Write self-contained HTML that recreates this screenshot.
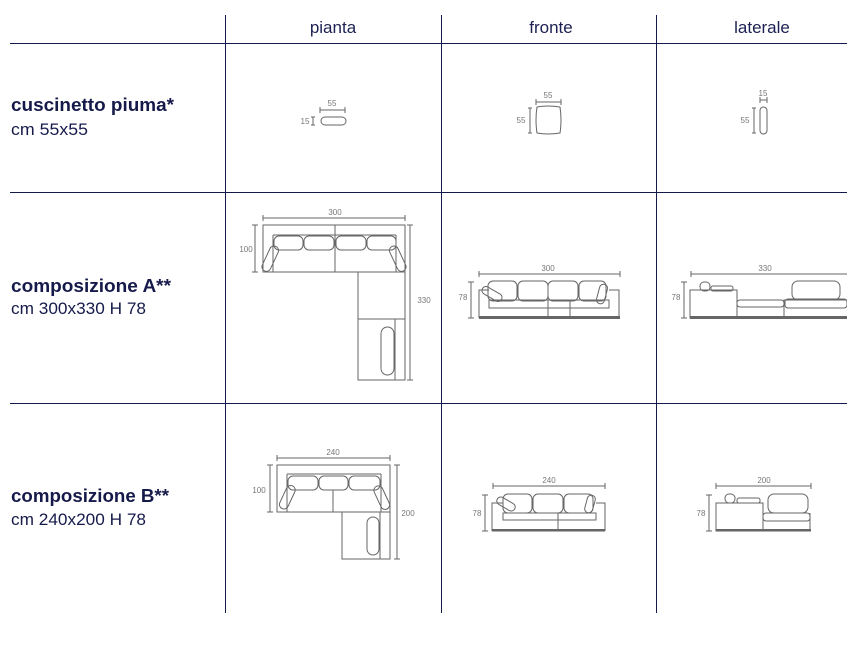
<!DOCTYPE html>
<html><head><meta charset="utf-8"><style>
html,body{margin:0;padding:0;background:#fff;width:847px;height:652px;overflow:hidden}
svg{display:block}
.h{font-family:"Liberation Sans",sans-serif;font-size:17px;fill:#1c2052;text-anchor:middle}
.b{font-family:"Liberation Sans",sans-serif;font-size:18px;font-weight:bold;fill:#161a4a}
.r{font-family:"Liberation Sans",sans-serif;font-size:17px;fill:#161a4a}
.d{font-family:"Liberation Sans",sans-serif;font-size:8px;fill:#777;text-anchor:middle}
.g{fill:none;stroke:#666;stroke-width:1}
.k{fill:#666;stroke:none}
</style></head><body>
<svg width="847" height="652" viewBox="0 0 847 652">
<g stroke="#161a4a" stroke-width="1">
<line x1="10" y1="43.5" x2="847" y2="43.5"/>
<line x1="10" y1="192.5" x2="847" y2="192.5"/>
<line x1="10" y1="403.5" x2="847" y2="403.5"/>
<line x1="225.5" y1="15" x2="225.5" y2="613"/>
<line x1="441.5" y1="15" x2="441.5" y2="613"/>
<line x1="656.5" y1="15" x2="656.5" y2="613"/>
</g>
<text class="h" x="333" y="33">pianta</text>
<text class="h" x="551" y="33">fronte</text>
<text class="h" x="762" y="33">laterale</text>
<text class="b" x="11" y="111" textLength="163" lengthAdjust="spacingAndGlyphs">cuscinetto piuma*</text>
<text class="r" x="11" y="135" textLength="77" lengthAdjust="spacingAndGlyphs">cm 55x55</text>
<text class="b" x="11" y="292" textLength="160" lengthAdjust="spacingAndGlyphs">composizione A**</text>
<text class="r" x="11" y="314" textLength="135" lengthAdjust="spacingAndGlyphs">cm 300x330 H 78</text>
<text class="b" x="11" y="502" textLength="158" lengthAdjust="spacingAndGlyphs">composizione B**</text>
<text class="r" x="11" y="525" textLength="135" lengthAdjust="spacingAndGlyphs">cm 240x200 H 78</text>

<!-- cushion -->
<g class="g">
<path d="M320 110H345M320 107V113M345 107V113"/>
<rect x="321" y="117" width="25" height="8" rx="4"/>
<path d="M313 117V125M311 117H315M311 125H315"/>
<path d="M536 102H561M536 99V105M561 99V105"/>
<path d="M537 107Q548 105 560 107Q562 120 560 133Q548 135 537 133Q535 120 537 107Z"/>
<path d="M530 108V133M528 108H532M528 133H532"/>
<path d="M760 100H767M760 97V103M767 97V103"/>
<rect x="760" y="107" width="7" height="27" rx="3.5"/>
<path d="M754 108V133M752 108H756M752 133H756"/>
</g>
<text class="d" x="332" y="106">55</text>
<text class="d" x="305" y="124">15</text>
<text class="d" x="548" y="98">55</text>
<text class="d" x="521" y="123">55</text>
<text class="d" x="763" y="96">15</text>
<text class="d" x="745" y="123">55</text>

<!-- plan A -->
<g class="g">
<path d="M263 218H405M263 215V221M405 215V221"/>
<path d="M255 225V272M252 225H258M252 272H258"/>
<path d="M410 225V380M407 225H413M407 380H413"/>
<rect x="263" y="225" width="142" height="47"/>
<line x1="335" y1="225" x2="335" y2="272"/>
<path d="M273 235H396M273 235V272M396 235V272"/>
<rect x="274" y="236" width="29" height="14" rx="5"/>
<rect x="304" y="236" width="30" height="14" rx="5"/>
<rect x="336" y="236" width="30" height="14" rx="5"/>
<rect x="367" y="236" width="29" height="14" rx="5"/>
<rect x="266" y="245" width="9" height="27" rx="4.5" transform="rotate(25 270 258)"/>
<rect x="393" y="245" width="9" height="27" rx="4.5" transform="rotate(-25 398 258)"/>
<rect x="358" y="272" width="47" height="108"/>
<line x1="358" y1="319" x2="405" y2="319"/>
<line x1="395" y1="319" x2="395" y2="380"/>
<rect x="381" y="327" width="13" height="48" rx="6.5"/>
</g>
<text class="d" x="335" y="215">300</text>
<text class="d" x="246" y="252">100</text>
<text class="d" x="424" y="303">330</text>

<!-- front A -->
<g class="g">
<path d="M479 274H620M479 271V277M620 271V277"/>
<path d="M471 282V318M468 282H474M468 318H474"/>
<path d="M479 318V290H489M619 318V290H609"/>
<path d="M489 308V300H609V308Z"/>
<rect x="488" y="281" width="29" height="20" rx="5"/>
<rect x="518" y="281" width="30" height="20" rx="5"/>
<rect x="548" y="281" width="30" height="20" rx="5"/>
<rect x="579" y="281" width="27" height="20" rx="5"/>
<rect x="481" y="290" width="22" height="8" rx="4" transform="rotate(30 492 294)"/>
<rect x="598" y="284" width="8" height="20" rx="4" transform="rotate(15 602 294)"/>
<line x1="548" y1="300" x2="548" y2="318"/>
<line x1="570" y1="300" x2="570" y2="318"/>
</g>
<rect class="k" x="479" y="316" width="141" height="3"/>
<text class="d" x="548" y="271">300</text>
<text class="d" x="463" y="300">78</text>

<!-- side A -->
<g class="g">
<path d="M691 274H847M691 271V277"/>
<path d="M684 282V318M681 282H687M681 318H687"/>
<rect x="690" y="290" width="47" height="28"/>
<rect x="700" y="282" width="10" height="9" rx="4"/>
<rect x="711" y="286" width="22" height="5" rx="2"/>
<rect x="737" y="300" width="47" height="7" rx="3"/>
<path d="M784 318V300H847"/>
<rect x="792" y="281" width="48" height="19" rx="6"/>
<rect x="785" y="299" width="62" height="9" rx="3"/>
</g>
<rect class="k" x="690" y="316" width="157" height="3"/>
<text class="d" x="765" y="271">330</text>
<text class="d" x="676" y="300">78</text>

<!-- plan B -->
<g class="g">
<path d="M277 458H390M277 455V461M390 455V461"/>
<path d="M270 465V512M267 465H273M267 512H273"/>
<path d="M397 465V559M394 465H400M394 559H400"/>
<rect x="277" y="465" width="113" height="47"/>
<line x1="333" y1="490" x2="333" y2="512"/>
<path d="M287 474H381M287 474V512M381 474V512"/>
<rect x="288" y="476" width="30" height="14" rx="5"/>
<rect x="319" y="476" width="29" height="14" rx="5"/>
<rect x="349" y="476" width="31" height="14" rx="5"/>
<rect x="283" y="485" width="9" height="25" rx="4.5" transform="rotate(25 288 497)"/>
<rect x="377" y="485" width="9" height="25" rx="4.5" transform="rotate(-25 382 497)"/>
<rect x="342" y="512" width="48" height="47"/>
<line x1="380" y1="512" x2="380" y2="559"/>
<rect x="367" y="517" width="12" height="38" rx="6"/>
</g>
<text class="d" x="333" y="455">240</text>
<text class="d" x="259" y="493">100</text>
<text class="d" x="408" y="516">200</text>

<!-- front B -->
<g class="g">
<path d="M493 486H605M493 483V489M605 483V489"/>
<path d="M485 495V531M482 495H488M482 531H488"/>
<path d="M492 531V503H503M605 531V503H596"/>
<path d="M503 520V513H596V520Z"/>
<rect x="503" y="494" width="29" height="19" rx="5"/>
<rect x="533" y="494" width="30" height="19" rx="5"/>
<rect x="564" y="494" width="29" height="19" rx="5"/>
<rect x="496" y="500" width="20" height="8" rx="4" transform="rotate(30 506 504)"/>
<rect x="586" y="495" width="8" height="18" rx="4" transform="rotate(15 590 504)"/>
<line x1="558" y1="513" x2="558" y2="531"/>
</g>
<rect class="k" x="492" y="529" width="113" height="2.5"/>
<text class="d" x="549" y="483">240</text>
<text class="d" x="477" y="516">78</text>

<!-- side B -->
<g class="g">
<path d="M716 486H811M716 483V489M811 483V489"/>
<path d="M709 495V531M706 495H712M706 531H712"/>
<rect x="716" y="503" width="47" height="28"/>
<rect x="725" y="494" width="10" height="9" rx="4"/>
<rect x="737" y="498" width="23" height="5" rx="2"/>
<path d="M763 531V503"/>
<rect x="768" y="494" width="40" height="19" rx="6"/>
<rect x="763" y="513" width="47" height="8" rx="3"/>
<path d="M810 513V531"/>
</g>
<rect class="k" x="716" y="529" width="95" height="2.5"/>
<text class="d" x="764" y="483">200</text>
<text class="d" x="701" y="516">78</text>
</svg>
</body></html>
